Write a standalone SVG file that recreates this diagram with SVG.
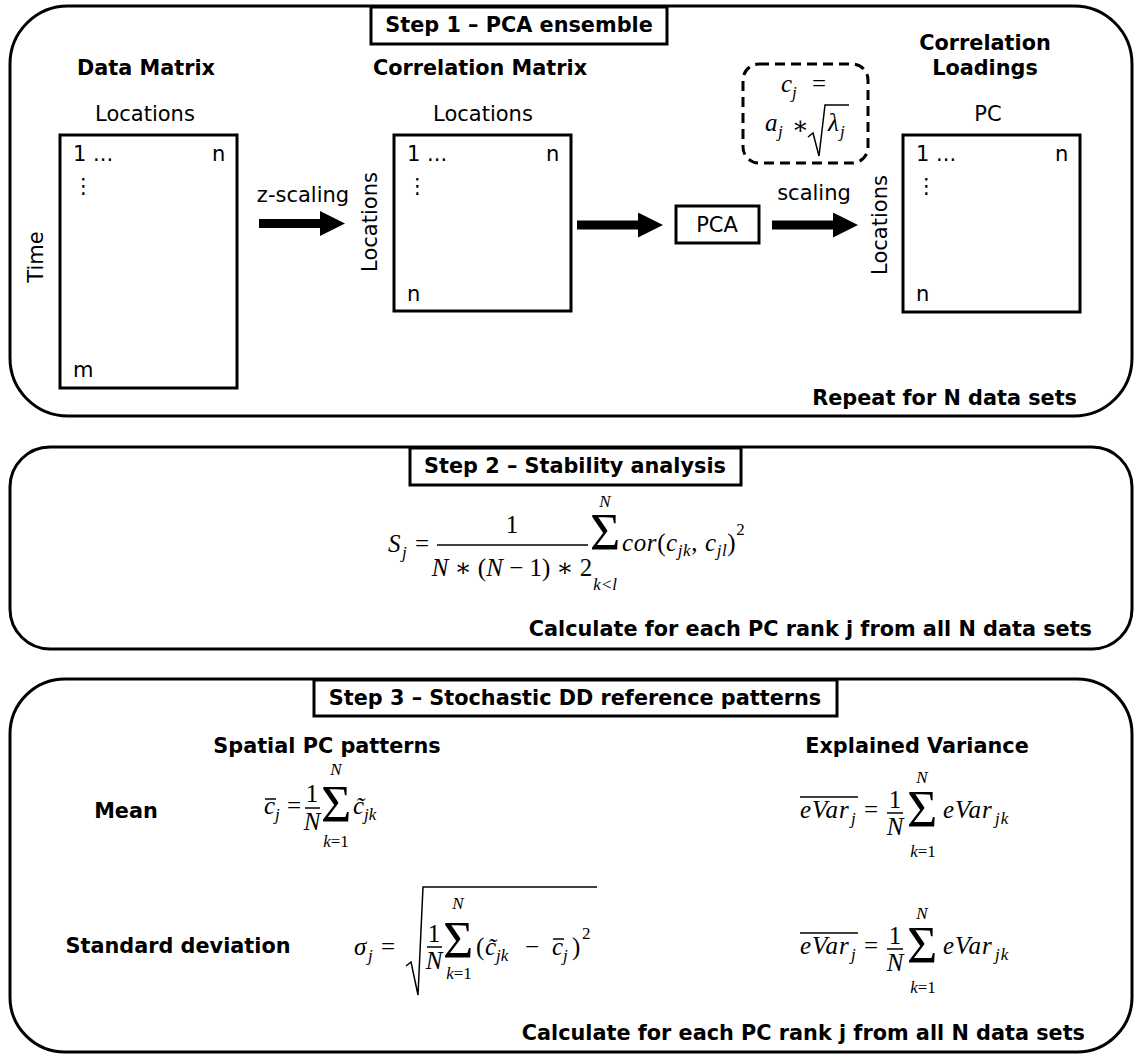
<svg xmlns="http://www.w3.org/2000/svg" width="1134" height="1055" viewBox="0 0 1134 1055">
  <defs>
    <style>
      .panel { fill: #fff; stroke: #000; stroke-width: 3; }
      .box { fill: #fff; stroke: #000; stroke-width: 3; }
      .t { font-family: "DejaVu Sans", "Liberation Sans", sans-serif; font-size: 21px; fill: #000; }
      .b { font-family: "DejaVu Sans", "Liberation Sans", sans-serif; font-size: 20.8px; font-weight: bold; fill: #000; }
      .c { text-anchor: middle; }
      .e { text-anchor: end; }
      .mi { font-family: "Liberation Serif", "DejaVu Serif", serif; font-style: italic; font-size: 25px; fill: #000; }
      .mr { font-family: "Liberation Serif", "DejaVu Serif", serif; font-style: normal; font-size: 25px; fill: #000; }
      .sm { font-size: 17px; }
      .big { font-family: "Liberation Serif", "DejaVu Serif", serif; font-size: 52px; fill: #000; }
      .rule { stroke: #000; stroke-width: 1.5; fill: none; }
      .shaft { stroke: #000; stroke-width: 9; }
    </style>
    <marker id="head" markerUnits="userSpaceOnUse" markerWidth="25" markerHeight="25" refX="0" refY="12.5" orient="auto">
      <path d="M0,0 L25,12.5 L0,25 z" fill="#000"/>
    </marker>
  </defs>

  <rect width="1134" height="1055" fill="#fff"/>

  <!-- Step 1 panel -->
  <g id="step1">
    <rect class="panel" x="10" y="6" width="1122" height="410" rx="58" ry="58"/>
    <rect class="box" x="371" y="7" width="296" height="37"/>
    <text class="b c" x="519" y="32">Step 1 – PCA ensemble</text>
    <text class="b e" x="1077" y="405">Repeat for N data sets</text>
  </g>

  <!-- Data matrix -->
  <g id="data-matrix">
    <text class="b c" x="146" y="75">Data Matrix</text>
    <text class="t c" x="145" y="121">Locations</text>
    <text class="t c" transform="translate(43,257) rotate(-90)">Time</text>
    <rect class="box" x="60" y="135" width="177" height="253"/>
    <text class="t" x="73" y="161">1 ...</text>
    <text class="t" x="212" y="161">n</text>
    <text class="t" x="73" y="193">⋮</text>
    <text class="t" x="73" y="377">m</text>
  </g>

  <!-- Correlation matrix -->
  <g id="correlation-matrix">
    <text class="b c" x="480" y="75">Correlation Matrix</text>
    <text class="t c" x="483" y="121">Locations</text>
    <text class="t c" transform="translate(377,222) rotate(-90)">Locations</text>
    <rect class="box" x="394" y="135" width="177" height="176"/>
    <text class="t" x="407" y="161">1 ...</text>
    <text class="t" x="546" y="161">n</text>
    <text class="t" x="407" y="193">⋮</text>
    <text class="t" x="407" y="301">n</text>
  </g>

  <!-- PCA step -->
  <g id="pca">
    <rect class="box" x="676" y="206" width="83" height="37"/>
    <text class="t c" x="717" y="232">PCA</text>
  </g>

  <!-- Loading formula -->
  <g id="loading-formula">
    <rect x="743" y="64" width="125" height="99" rx="16" ry="16" fill="#fff" stroke="#000" stroke-width="3" stroke-dasharray="10,6"/>
    <text class="mi" x="781" y="92">c</text>
    <text class="mi sm" x="792" y="98">j</text>
    <text class="mr" x="812" y="92">=</text>
    <text class="mi" x="765" y="131">a</text>
    <text class="mi sm" x="778" y="137">j</text>
    <text class="mr" x="792" y="134">∗</text>
    <path class="rule" d="M808,137 L813,133 L819,156 L825,105 L849,105"/>
    <text class="mi" x="828" y="131">λ</text>
    <text class="mi sm" x="840" y="137">j</text>
  </g>

  <!-- Correlation loadings -->
  <g id="correlation-loadings">
    <text class="b c" x="985" y="50">Correlation</text>
    <text class="b c" x="985" y="75">Loadings</text>
    <text class="t c" x="988" y="121">PC</text>
    <text class="t c" transform="translate(887,225) rotate(-90)">Locations</text>
    <rect class="box" x="903" y="135" width="177" height="177"/>
    <text class="t" x="916" y="161">1 ...</text>
    <text class="t" x="1055" y="161">n</text>
    <text class="t" x="916" y="193">⋮</text>
    <text class="t" x="916" y="301">n</text>
  </g>

  <!-- Arrows between matrices -->
  <g id="connectors">
    <line class="shaft" x1="259" y1="223.5" x2="320" y2="223.5" marker-end="url(#head)"/>
    <text class="t c" x="303" y="202">z-scaling</text>
    <line class="shaft" x1="577" y1="225" x2="638" y2="225" marker-end="url(#head)"/>
    <line class="shaft" x1="772" y1="225" x2="833" y2="225" marker-end="url(#head)"/>
    <text class="t c" x="814" y="200">scaling</text>
  </g>

  <!-- Step 2 panel -->
  <g id="step2">
    <rect class="panel" x="10" y="447" width="1122" height="202" rx="40" ry="40"/>
    <rect class="box" x="410" y="448" width="331" height="37"/>
    <text class="b c" x="575" y="473">Step 2 – Stability analysis</text>
    <text class="b e" x="1092" y="636">Calculate for each PC rank j from all N data sets</text>
  </g>

  <!-- Stability formula -->
  <g id="stability-formula">
    <text class="mi" x="388" y="552">S</text>
    <text class="mi sm" x="402" y="558">j</text>
    <text class="mr" x="415" y="552">=</text>
    <line class="rule" x1="437" y1="545" x2="588" y2="545"/>
    <text class="mr c" x="512" y="533">1</text>
    <text class="mr c" x="512" y="576" font-size="24"><tspan class="mi" font-size="24">N</tspan> ∗ (<tspan class="mi" font-size="24">N</tspan> − 1) ∗ 2</text>
    <text class="big" x="590" y="550">Σ</text>
    <text class="mi sm c" x="605" y="507">N</text>
    <text class="mi sm c" x="605" y="590">k&lt;l</text>
    <text class="mi" x="622" y="551" font-size="26" letter-spacing="0.6">cor<tspan class="mr" font-size="26">(</tspan>c<tspan class="sm" dy="5">jk</tspan><tspan class="mr" font-size="26" dy="-5">, </tspan>c<tspan class="sm" dy="5">jl</tspan><tspan class="mr" font-size="26" dy="-5">)</tspan><tspan class="mr sm" dy="-16">2</tspan></text>
  </g>

  <!-- Step 3 panel -->
  <g id="step3">
    <rect class="panel" x="10" y="679" width="1122" height="373" rx="55" ry="55"/>
    <rect class="box" x="314" y="680" width="523" height="36"/>
    <text class="b c" x="575" y="705">Step 3 – Stochastic DD reference patterns</text>
    <text class="b c" x="327" y="753">Spatial PC patterns</text>
    <text class="b c" x="917" y="753">Explained Variance</text>
    <text class="b c" x="126" y="818">Mean</text>
    <text class="b c" x="178" y="953">Standard deviation</text>
    <text class="b e" x="1085" y="1040">Calculate for each PC rank j from all N data sets</text>
  </g>

  <!-- Mean of spatial patterns -->
  <g id="mean-pattern">
    <text class="mi" x="264" y="814">c</text>
    <line class="rule" x1="265" y1="799" x2="276" y2="799"/>
    <text class="mi sm" x="275" y="820">j</text>
    <text class="mr" x="287" y="814">=</text>
    <text class="mr c" x="312" y="802">1</text>
    <line class="rule" x1="305" y1="808" x2="320" y2="808"/>
    <text class="mi c" x="312" y="830">N</text>
    <text class="big" x="321" y="822">Σ</text>
    <text class="mi sm c" x="336" y="775">N</text>
    <text class="mi sm c" x="336" y="847">k<tspan class="mr sm">=1</tspan></text>
    <text class="mi" x="353" y="814">c̃</text>
    <text class="mi sm" x="364" y="820">jk</text>
  </g>

  <!-- Standard deviation of spatial patterns -->
  <g id="std-pattern">
    <text class="mi" x="354" y="955">σ</text>
    <text class="mi sm" x="368" y="961">j</text>
    <text class="mr" x="381" y="955">=</text>
    <path class="rule" d="M406,966 L411,962 L418,995 L423,887 L597,887"/>
    <text class="mr c" x="434" y="942">1</text>
    <line class="rule" x1="427" y1="947" x2="442" y2="947"/>
    <text class="mi c" x="434" y="969">N</text>
    <text class="big" x="443" y="958">Σ</text>
    <text class="mi sm c" x="458" y="909">N</text>
    <text class="mi sm c" x="459" y="979">k<tspan class="mr sm">=1</tspan></text>
    <text class="mr" x="476" y="955">(</text>
    <text class="mi" x="485" y="955">c̃</text>
    <text class="mi sm" x="496" y="961">jk</text>
    <text class="mr" x="525" y="955">−</text>
    <text class="mi" x="552" y="955">c</text>
    <line class="rule" x1="553" y1="939" x2="564" y2="939"/>
    <text class="mi sm" x="563" y="961">j</text>
    <text class="mr" x="572" y="955">)</text>
    <text class="mr sm" x="582" y="939">2</text>
  </g>

  <!-- Mean explained variance -->
  <g id="mean-variance">
    <text class="mi" x="800" y="818" letter-spacing="1">eVar</text>
    <text class="mi sm" x="851" y="824">j</text>
    <line class="rule" x1="800" y1="797" x2="858" y2="797"/>
    <text class="mr" x="864" y="818">=</text>
    <text class="mr c" x="895" y="808">1</text>
    <line class="rule" x1="887" y1="813" x2="903" y2="813"/>
    <text class="mi c" x="895" y="835">N</text>
    <text class="big" x="907" y="827">Σ</text>
    <text class="mi sm c" x="922" y="783">N</text>
    <text class="mi sm c" x="923" y="857">k<tspan class="mr sm">=1</tspan></text>
    <text class="mi" x="943" y="818" letter-spacing="1">eVar</text>
    <text class="mi sm" x="995" y="824" letter-spacing="1">jk</text>
  </g>

  <!-- Spread of explained variance -->
  <g id="std-variance">
    <text class="mi" x="800" y="954" letter-spacing="1">eVar</text>
    <text class="mi sm" x="851" y="960">j</text>
    <line class="rule" x1="800" y1="933" x2="858" y2="933"/>
    <text class="mr" x="864" y="954">=</text>
    <text class="mr c" x="895" y="944">1</text>
    <line class="rule" x1="887" y1="949" x2="903" y2="949"/>
    <text class="mi c" x="895" y="971">N</text>
    <text class="big" x="907" y="963">Σ</text>
    <text class="mi sm c" x="922" y="919">N</text>
    <text class="mi sm c" x="923" y="993">k<tspan class="mr sm">=1</tspan></text>
    <text class="mi" x="943" y="954" letter-spacing="1">eVar</text>
    <text class="mi sm" x="995" y="960" letter-spacing="1">jk</text>
  </g>
</svg>
